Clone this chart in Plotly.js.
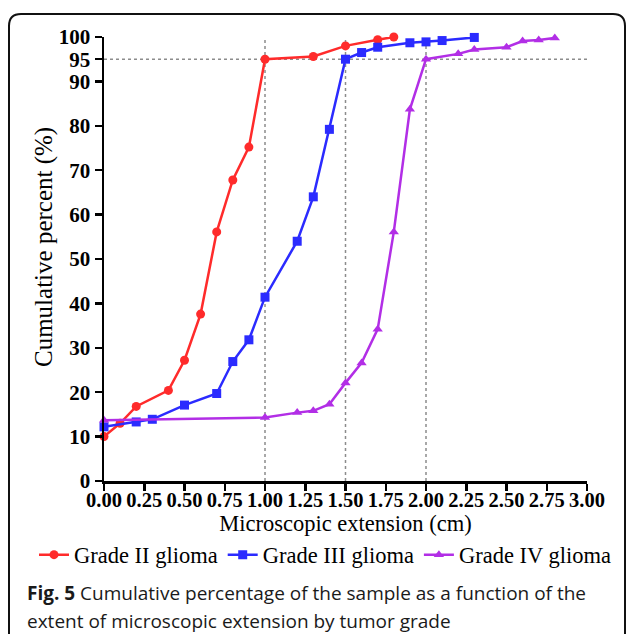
<!DOCTYPE html>
<html>
<head>
<meta charset="utf-8">
<script src="https://cdn.plot.ly/plotly-3.0.1.min.js"></script>
<style>
  html, body { margin: 0; padding: 0; background: #fff; }
  #chart { width: 627px; height: 634px; }
</style>
</head>
<body>
<div id="chart"></div>
<script>
// ---- Data ----
const seriesNames = ["Grade II glioma", "Grade III glioma", "Grade IV glioma"];

const grade2X = [0.0, 0.1, 0.2, 0.4, 0.5, 0.6, 0.7, 0.8, 0.9, 1.0, 1.3, 1.5, 1.7, 1.8];
const grade2Y = [10.0, 13.0, 16.8, 20.4, 27.2, 37.6, 56.1, 67.8, 75.2, 95.0, 95.6, 98.0, 99.4, 100.0];

const grade3X = [0.0, 0.2, 0.3, 0.5, 0.7, 0.8, 0.9, 1.0, 1.2, 1.3, 1.4, 1.5, 1.6, 1.7, 1.9, 2.0, 2.1, 2.3];
const grade3Y = [12.2, 13.3, 13.9, 17.1, 19.7, 26.9, 31.8, 41.4, 54.0, 64.0, 79.2, 95.0, 96.5, 97.7, 98.7, 98.9, 99.2, 99.9];

const grade4X = [0.0, 1.0, 1.2, 1.3, 1.4, 1.5, 1.6, 1.7, 1.8, 1.9, 2.0, 2.2, 2.3, 2.5, 2.6, 2.7, 2.8];
const grade4Y = [13.7, 14.3, 15.4, 15.8, 17.3, 22.1, 26.6, 34.2, 56.1, 83.7, 95.0, 96.2, 97.2, 97.7, 99.1, 99.3, 99.8];

const xTickVals = [0, 0.25, 0.5, 0.75, 1, 1.25, 1.5, 1.75, 2, 2.25, 2.5, 2.75, 3];
const yTickVals = [0, 10, 20, 30, 40, 50, 60, 70, 80, 90, 95, 100];
const refXs = [1.0, 1.5, 2.0];
const refY = 95;

const xTitle = "Microscopic extension (cm)";
const yTitle = "Cumulative percent (%)";
const captionBold = "Fig. 5";
const captionLine1 = " Cumulative percentage of the sample as a function of the";
const captionLine2 = "extent of microscopic extension by tumor grade";

// ---- Styling ----
const SERIF = "Liberation Serif, Times New Roman, serif";
const SANS = "Open Sans, Noto Sans, sans-serif";
const colors = ["#ff2b2b", "#2b2bff", "#b22ee6"];

const traces = [
  { x: grade2X, y: grade2Y, name: seriesNames[0], mode: "lines+markers", type: "scatter",
    line: { color: colors[0], width: 2.5 }, marker: { symbol: "circle", size: 9, color: colors[0] }, cliponaxis: false },
  { x: grade3X, y: grade3Y, name: seriesNames[1], mode: "lines+markers", type: "scatter",
    line: { color: colors[1], width: 2.5 }, marker: { symbol: "square", size: 9, color: colors[1] }, cliponaxis: false },
  { x: grade4X, y: grade4Y, name: seriesNames[2], mode: "lines+markers", type: "scatter",
    line: { color: colors[2], width: 2.5 }, marker: { symbol: "triangle-up", size: 9, color: colors[2] }, cliponaxis: false }
];

const shapes = [];
refXs.forEach(v => shapes.push({ type: "line", xref: "x", yref: "y", x0: v, x1: v, y0: 0, y1: 100,
  line: { color: "#8c8c8c", width: 1.5, dash: "dot" }, layer: "below" }));
shapes.push({ type: "line", xref: "x", yref: "y", x0: 0, x1: 3, y0: refY, y1: refY,
  line: { color: "#8c8c8c", width: 1.5, dash: "dot" }, layer: "below" });

// Frame around the figure (rounded rectangle), in paper coords
const W = 483, H = 444; // plot area in px
const px = p => (p - 104) / W;
const py = p => (481 - p) / H;
const L = px(9), R = px(625), T = py(14), B = py(660);
const rx = 12 / W, ry = 12 / H;
const framePath = `M ${L} ${B} L ${L} ${T - ry} Q ${L} ${T} ${L + rx} ${T} L ${R - rx} ${T} Q ${R} ${T} ${R} ${T - ry} L ${R} ${B}`;
shapes.push({ type: "path", xref: "paper", yref: "paper", path: framePath,
  line: { color: "#111", width: 2 }, layer: "above" });

const layout = {
  width: 627, height: 634,
  margin: { l: 104, r: 40, t: 37, b: 153 },
  paper_bgcolor: "#fff", plot_bgcolor: "#fff",
  showlegend: true,
  xaxis: {
    range: [0, 3], tickvals: xTickVals, tickformat: ".2f",
    showgrid: false, zeroline: false, showline: true, linecolor: "#000", linewidth: 2.5,
    ticks: "outside", ticklen: 7, tickwidth: 2.5, tickcolor: "#000", ticklabelstandoff: -8,
    tickfont: { family: SERIF, size: 20.5, color: "#000", weight: "bold" },
    title: { text: xTitle, font: { family: SERIF, size: 22.5, color: "#000" }, standoff: 0 }
  },
  yaxis: {
    range: [0, 100], tickvals: yTickVals,
    showgrid: false, zeroline: false, showline: true, linecolor: "#000", linewidth: 2.5,
    ticks: "outside", ticklen: 7, tickwidth: 2.5, tickcolor: "#000",
    tickfont: { family: SERIF, size: 21, color: "#000", weight: "bold" }
  },
  legend: {
    orientation: "h", x: px(34), xanchor: "left", y: py(555), yanchor: "middle",
    font: { family: SERIF, size: 22.5, color: "#000" }, bgcolor: "rgba(0,0,0,0)",
    itemclick: false, itemdoubleclick: false
  },
  shapes: shapes,
  annotations: [
    { xref: "paper", yref: "paper", x: px(44), y: py(247), xanchor: "center", yanchor: "middle",
      text: yTitle, textangle: -90, showarrow: false,
      font: { family: SERIF, size: 25, color: "#000" } },
    { xref: "paper", yref: "paper", x: px(25), y: py(593), xanchor: "left", yanchor: "middle",
      text: "<b>" + captionBold + "</b>" + captionLine1, showarrow: false, align: "left",
      font: { family: SANS, size: 19, color: "#1a1a1a" } },
    { xref: "paper", yref: "paper", x: px(25), y: py(621), xanchor: "left", yanchor: "middle",
      text: captionLine2, showarrow: false, align: "left",
      font: { family: SANS, size: 19, color: "#1a1a1a" } }
  ]
};

Plotly.newPlot("chart", traces, layout, { displayModeBar: false, staticPlot: true });
</script>
</body>
</html>
